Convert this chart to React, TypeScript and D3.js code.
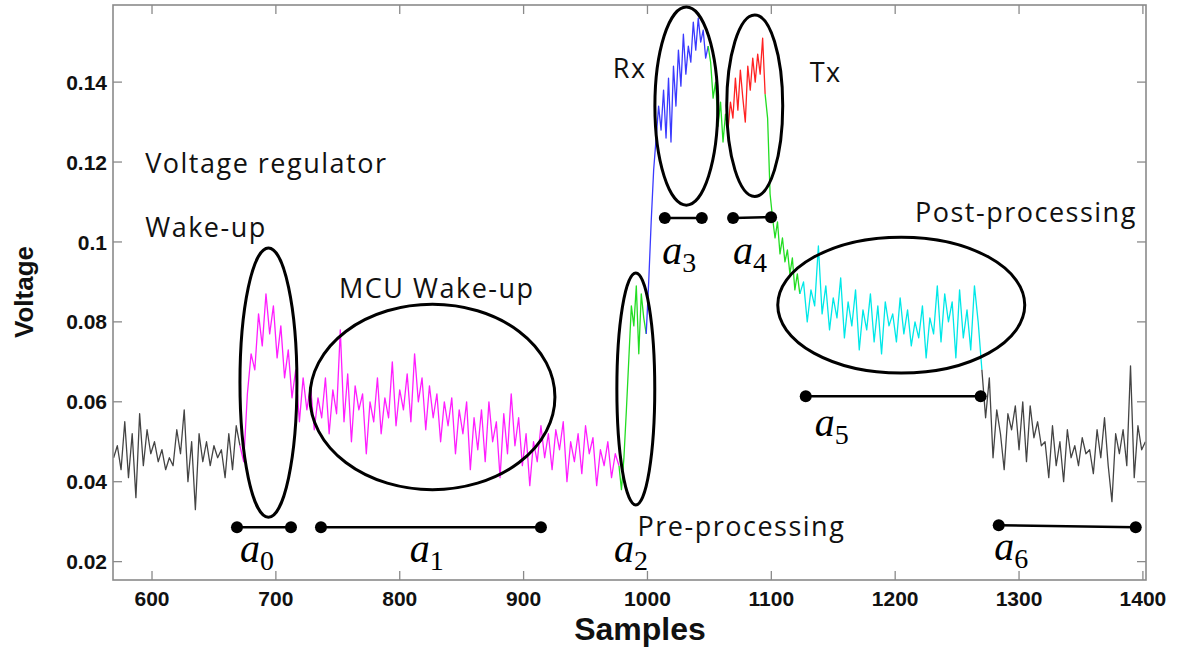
import React from "react";
import * as d3 from "d3";

// ---------- data ----------
const xTicks = [600, 700, 800, 900, 1000, 1100, 1200, 1300, 1400];
const yTicks = [0.02, 0.04, 0.06, 0.08, 0.1, 0.12, 0.14];
const yTickLabels = ["0.02", "0.04", "0.06", "0.08", "0.1", "0.12", "0.14"];

// idle (black) before wake-up, samples 569.. step 3
const idleStartValues = [
  0.046, 0.049, 0.043, 0.055, 0.041, 0.052, 0.036, 0.057, 0.044, 0.053,
  0.047, 0.05, 0.045, 0.048, 0.043, 0.046, 0.044, 0.053, 0.047, 0.058,
  0.04, 0.05, 0.033, 0.052, 0.045, 0.05, 0.044, 0.049, 0.046, 0.048,
  0.041, 0.052, 0.043, 0.054, 0.049,
];
// wake-up + MCU wake-up (magenta), samples 671.. step 3
const wakeValues = [
  0.049, 0.045, 0.062, 0.072, 0.068, 0.082, 0.074, 0.087, 0.077, 0.084,
  0.071, 0.079, 0.066, 0.073, 0.061, 0.068, 0.055, 0.066,
  0.058, 0.064, 0.053, 0.061, 0.056, 0.066, 0.052, 0.063, 0.057, 0.078,
  0.055, 0.067, 0.05, 0.064, 0.058, 0.062, 0.047, 0.06, 0.055, 0.066,
  0.052, 0.061, 0.056, 0.07, 0.054, 0.063, 0.058, 0.067, 0.055, 0.072,
  0.06, 0.066, 0.053, 0.064, 0.056, 0.062, 0.05, 0.06, 0.054, 0.061,
  0.047, 0.058, 0.052, 0.06, 0.043, 0.056, 0.048, 0.058, 0.045, 0.06,
  0.05, 0.055, 0.041, 0.057, 0.047, 0.062, 0.049, 0.056, 0.044, 0.052,
  0.039, 0.05, 0.045, 0.054, 0.046, 0.052, 0.043, 0.053, 0.048, 0.055,
  0.04, 0.05, 0.045, 0.052, 0.042, 0.054, 0.047, 0.051, 0.039, 0.048,
  0.044, 0.05, 0.041, 0.047, 0.044,
];
// pre-processing (green), samples 977.. step 2
const preValues = [0.044, 0.038, 0.046, 0.058, 0.071, 0.084, 0.079, 0.089, 0.072, 0.087, 0.081, 0.077];
// Rx (blue), samples 999.. step 2
const rxValues = [
  0.077, 0.09, 0.105, 0.118, 0.126, 0.134, 0.128, 0.138, 0.126, 0.141,
  0.125, 0.144, 0.134, 0.148, 0.139, 0.152, 0.142, 0.149, 0.145, 0.155,
  0.148, 0.156, 0.15, 0.153, 0.146, 0.149,
];
// switch (green), samples 1049.. step 2
const switchValues = [0.149, 0.145, 0.136, 0.14, 0.129, 0.135, 0.125, 0.132, 0.128];
// Tx (red), samples 1065.. step 2
const txValues = [
  0.128, 0.135, 0.131, 0.141, 0.133, 0.143, 0.136, 0.13, 0.144, 0.138,
  0.146, 0.14, 0.147, 0.142, 0.151, 0.137,
];
// ramp down (green), samples 1095.. step 2
const rampValues = [
  0.137, 0.131, 0.112, 0.106, 0.101, 0.105, 0.097, 0.101, 0.095, 0.098,
  0.092, 0.096, 0.088, 0.092, 0.087,
];
// post-processing (cyan), samples 1123.. step 3
const postValues = [
  0.087, 0.09, 0.08, 0.088, 0.084, 0.099, 0.082, 0.089, 0.078, 0.086,
  0.081, 0.091, 0.076, 0.085, 0.079, 0.088, 0.073, 0.083, 0.078, 0.087,
  0.075, 0.084, 0.072, 0.085, 0.079, 0.082, 0.075, 0.086, 0.077, 0.083,
  0.074, 0.08, 0.076, 0.084, 0.071, 0.081, 0.077, 0.089, 0.075, 0.087,
  0.08, 0.085, 0.071, 0.088, 0.076, 0.083, 0.073, 0.089, 0.08, 0.068,
];
// idle (black) after, samples 1270.. step 3
const idleEndValues = [
  0.068, 0.056, 0.066, 0.046, 0.058, 0.052, 0.043, 0.057, 0.053, 0.059,
  0.048, 0.06, 0.045, 0.059, 0.051, 0.055, 0.049, 0.05, 0.041, 0.054,
  0.044, 0.05, 0.04, 0.053, 0.046, 0.049, 0.044, 0.051, 0.047, 0.048,
  0.042, 0.053, 0.046, 0.056, 0.044, 0.035, 0.052, 0.047, 0.053, 0.044,
  0.069, 0.041, 0.054, 0.048, 0.05,
];

const segments = [
  { values: idleStartValues, start: 569, step: 3, color: "#444444" },
  { values: wakeValues, start: 671, step: 3, color: "#ff1eff" },
  { values: preValues, start: 977, step: 2, color: "#22dd22" },
  { values: rxValues, start: 999, step: 2, color: "#3a3aff" },
  { values: switchValues, start: 1049, step: 2, color: "#22dd22" },
  { values: txValues, start: 1065, step: 2, color: "#ff2222" },
  { values: rampValues, start: 1095, step: 2, color: "#22dd22" },
  { values: postValues, start: 1123, step: 3, color: "#00e8e8" },
  { values: idleEndValues, start: 1270, step: 3, color: "#444444" },
];

// interval markers (sample start, sample end, voltage level)
const intervals = [
  { name: "0", s0: 668.6, s1: 712.2, v0: 0.0286, v1: 0.0286 },
  { name: "1", s0: 736.4, s1: 914, v0: 0.0286, v1: 0.0286 },
  { name: "3", s0: 1014, s1: 1043.9, v0: 0.106, v1: 0.106 },
  { name: "4", s0: 1069.1, s1: 1099.8, v0: 0.106, v1: 0.1062 },
  { name: "5", s0: 1127.8, s1: 1269, v0: 0.0614, v1: 0.0614 },
  { name: "6", s0: 1283.6, s1: 1394.2, v0: 0.0291, v1: 0.0286 },
];
// interval labels (sample, voltage of baseline)
const intervalLabels = [
  { sub: "0", s: 671, v: 0.0199 },
  { sub: "1", s: 808, v: 0.0199 },
  { sub: "2", s: 973, v: 0.0199 },
  { sub: "3", s: 1012, v: 0.0946 },
  { sub: "4", s: 1069, v: 0.0946 },
  { sub: "5", s: 1135, v: 0.0514 },
  { sub: "6", s: 1280, v: 0.0204 },
];
// highlighted regions (center sample, center voltage, radius samples, radius voltage)
const ellipses = [
  { cs: 694, cv: 0.0648, rs: 23, rv: 0.0337 },
  { cs: 826.4, cv: 0.0612, rs: 98.9, rv: 0.0232 },
  { cs: 990.6, cv: 0.0632, rs: 15.3, rv: 0.029 },
  { cs: 1031.4, cv: 0.134, rs: 25.4, rv: 0.0248 },
  { cs: 1086.6, cv: 0.1341, rs: 22.6, rv: 0.0227 },
  { cs: 1204.9, cv: 0.0842, rs: 99.7, rv: 0.017 },
];
const annotations = [
  { text: "Voltage regulator", s: 594.5, v: 0.1173 },
  { text: "Wake-up", s: 594.5, v: 0.1012 },
  { text: "MCU Wake-up", s: 751, v: 0.086 },
  { text: "Rx", s: 972, v: 0.141 },
  { text: "Tx", s: 1131, v: 0.14 },
  { text: "Post-processing", s: 1216, v: 0.105 },
  { text: "Pre-processing", s: 992, v: 0.0264 },
];

// ---------- layout ----------
const W = 1179;
const H = 650;
const left = 113;
const right = 1146;
const top = 5;
const bottom = 580;

export default function App() {
  const x = d3.scaleLinear().domain([568.5, 1402.5]).range([left, right]);
  const y = d3.scaleLinear().domain([0.0154, 0.1593]).range([bottom, top]);
  const line = d3
    .line<[number, number]>()
    .x((d) => x(d[0]))
    .y((d) => y(d[1]));
  const tickLen = 9;
  const axisColor = "#8a8a8a";
  const tickFont = "'Liberation Sans', Arial, sans-serif";
  const annFont = "'Open Sans', 'Noto Sans', sans-serif";
  const mathFont = "'Liberation Serif', 'DejaVu Serif', serif";

  return (
    <div style={{ position: "absolute", left: 0, top: 0 }}>
      <svg width={W} height={H} style={{ display: "block", background: "#fff" }}>
        <g fill="none" strokeWidth={1.3} strokeLinejoin="round">
          {segments.map((seg, i) => {
            const pts: [number, number][] = seg.values.map((v, k) => [seg.start + k * seg.step, v]);
            return <path key={i} d={line(pts) || ""} stroke={seg.color} />;
          })}
        </g>
        <rect x={left} y={top} width={right - left} height={bottom - top} fill="none" stroke={axisColor} strokeWidth={1.6} />
        {xTicks.map((t) => (
          <g key={"x" + t}>
            <line x1={x(t)} x2={x(t)} y1={bottom} y2={bottom - tickLen} stroke={axisColor} strokeWidth={1.3} />
            <line x1={x(t)} x2={x(t)} y1={top} y2={top + tickLen} stroke={axisColor} strokeWidth={1.3} />
            <text x={x(t)} y={606} textAnchor="middle" fontFamily={tickFont} fontWeight="bold" fontSize={21} fill="#111">
              {t}
            </text>
          </g>
        ))}
        {yTicks.map((t, i) => (
          <g key={"y" + t}>
            <line x1={left} x2={left + tickLen} y1={y(t)} y2={y(t)} stroke={axisColor} strokeWidth={1.3} />
            <line x1={right} x2={right - tickLen} y1={y(t)} y2={y(t)} stroke={axisColor} strokeWidth={1.3} />
            <text x={107} y={y(t)} dy="0.36em" textAnchor="end" fontFamily={tickFont} fontWeight="bold" fontSize={21} fill="#111">
              {yTickLabels[i]}
            </text>
          </g>
        ))}
        <text x={640} y={640} textAnchor="middle" fontFamily={tickFont} fontWeight="bold" fontSize={32} fill="#111">
          Samples
        </text>
        <text transform={`translate(33, 292) rotate(-90)`} textAnchor="middle" fontFamily={tickFont} fontWeight="bold" fontSize={26} fill="#111">
          Voltage
        </text>

        {ellipses.map((e, i) => (
          <ellipse
            key={"e" + i}
            cx={x(e.cs)}
            cy={y(e.cv)}
            rx={x(e.cs + e.rs) - x(e.cs)}
            ry={y(e.cv - e.rv) - y(e.cv)}
            fill="none"
            stroke="#000"
            strokeWidth={3}
          />
        ))}
        {intervals.map((b) => (
          <g key={"b" + b.name}>
            <line x1={x(b.s0)} y1={y(b.v0)} x2={x(b.s1)} y2={y(b.v1)} stroke="#000" strokeWidth={2.5} />
            <circle cx={x(b.s0)} cy={y(b.v0)} r={6} fill="#000" />
            <circle cx={x(b.s1)} cy={y(b.v1)} r={6} fill="#000" />
          </g>
        ))}
        {intervalLabels.map((l) => (
          <text key={"l" + l.sub} x={x(l.s)} y={y(l.v)} fontFamily={mathFont} fill="#000">
            <tspan fontStyle="italic" fontSize={40}>a</tspan>
            <tspan fontSize={28} dy={8}>{l.sub}</tspan>
          </text>
        ))}
        {annotations.map((a) => (
          <text key={a.text} x={x(a.s)} y={y(a.v)} fontFamily={annFont} fontSize={27} letterSpacing={1.5} fill="#111">
            {a.text}
          </text>
        ))}
      </svg>
    </div>
  );
}
